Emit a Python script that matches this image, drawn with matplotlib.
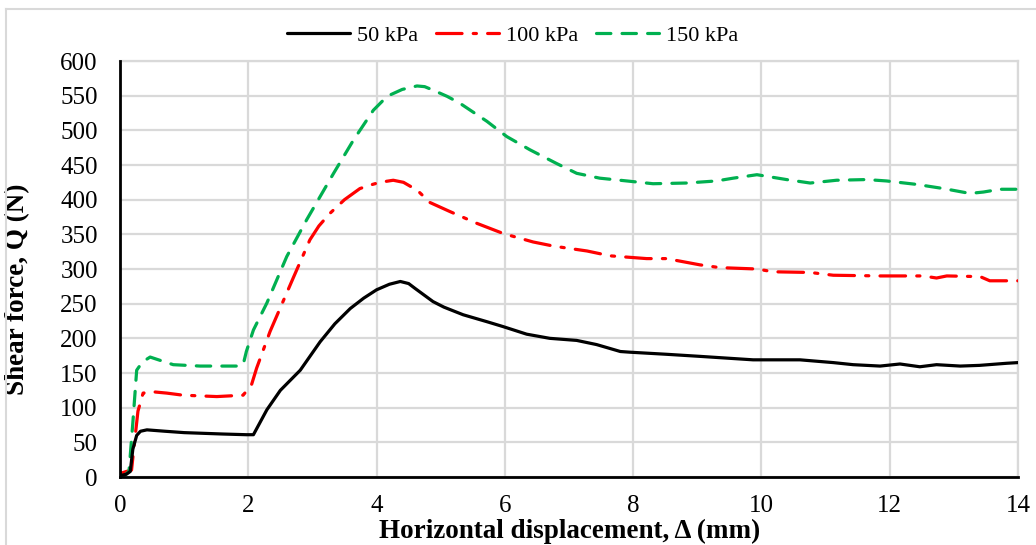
import matplotlib
matplotlib.use("Agg")
import matplotlib.pyplot as plt
from matplotlib.lines import Line2D

# Shear force vs horizontal displacement for three normal stresses
x_50 = [0.0, 0.10, 0.16, 0.20, 0.26, 0.32, 0.42, 0.70, 1.00, 1.30, 1.60, 1.97, 2.08,
        2.29, 2.50, 2.81, 3.12, 3.35, 3.59, 3.80, 4.00, 4.20, 4.37, 4.50, 4.60, 4.88,
        5.05, 5.35, 5.72, 5.97, 6.34, 6.70, 7.12, 7.43, 7.80, 7.95, 8.52, 9.04, 9.87,
        10.60, 11.12, 11.43, 11.85, 12.16, 12.47, 12.73, 13.10, 13.40, 13.82, 14.00]
q_50 = [2, 4, 8, 40, 60, 66, 68, 66, 64, 63, 62, 61, 61,
        97, 125, 154, 195, 221, 243, 258, 270, 278, 282, 279, 272, 253,
        245, 234, 224, 217, 206, 200, 197, 191, 181, 180, 177, 174, 169,
        169, 165, 162, 160, 163, 159, 162, 160, 161, 164, 165]

x_100 = [0.0, 0.10, 0.18, 0.22, 0.28, 0.36, 0.50, 0.73, 0.98, 1.51, 1.92, 2.05, 2.13,
         2.34, 2.70, 2.96, 3.10, 3.27, 3.50, 3.74, 3.90, 4.05, 4.26, 4.42, 4.55, 4.63,
         4.83, 5.14, 5.56, 5.98, 6.44, 6.76, 7.28, 7.64, 8.21, 8.52, 9.04, 9.35, 9.93,
         10.18, 10.76, 11.12, 11.85, 12.52, 12.73, 12.89, 13.41, 13.56, 13.77, 14.00]
q_100 = [5, 8, 10, 45, 95, 121, 123, 121, 118, 116, 118, 133, 157,
         210, 287, 342, 362, 380, 400, 416, 421, 425, 428, 425, 418, 414,
         396, 383, 366, 351, 339, 333, 326, 319, 315, 315, 306, 302, 300,
         296, 295, 291, 290, 290, 287, 290, 289, 283, 283, 283]

x_150 = [0.0, 0.08, 0.14, 0.20, 0.26, 0.35, 0.47, 0.60, 0.83, 1.25, 1.82, 1.92, 1.97,
         2.08, 2.29, 2.60, 2.91, 3.33, 3.64, 3.95, 4.10, 4.21, 4.40, 4.63, 4.75, 4.88,
         5.10, 5.30, 5.72, 6.03, 6.39, 6.81, 7.12, 7.48, 7.90, 8.31, 8.83, 9.30, 9.56,
         9.93, 10.39, 10.76, 11.17, 11.64, 11.95, 12.42, 12.84, 13.25, 13.46, 13.72, 14.00]
q_150 = [0, 3, 8, 78, 154, 166, 173, 169, 162, 160, 160, 162, 181,
         212, 251, 318, 371, 438, 486, 529, 543, 551, 559, 564, 563, 558,
         549, 539, 513, 491, 472, 452, 438, 431, 427, 423, 424, 427, 431,
         436, 429, 424, 428, 429, 427, 422, 416, 409, 411, 415, 415]

series_labels = ["50 kPa", "100 kPa", "150 kPa"]
x_ticks = [0, 2, 4, 6, 8, 10, 12, 14]
y_ticks = list(range(0, 601, 50))

plt.rcParams["font.family"] = ["Liberation Serif", "DejaVu Serif"]

W, H = 1036, 545
fig = plt.figure(figsize=(W / 100, H / 100), dpi=100)
ax = fig.add_axes([120 / W, 1 - 477 / H, 898 / W, 416 / H])

lw = 2.3
ax.plot(x_50, q_50, color="black", lw=lw, solid_capstyle="round",
        solid_joinstyle="round", label=series_labels[0], zorder=4)
ax.plot(x_100, q_100, color="#ff0000", lw=lw, dashes=(8, 3.5, 1, 3.5),
        dash_capstyle="round", dash_joinstyle="round", label=series_labels[1], zorder=3)
ax.plot(x_150, q_150, color="#00b050", lw=lw, dashes=(4.5, 3.5),
        dash_capstyle="round", dash_joinstyle="round", label=series_labels[2], zorder=3)

ax.set_xlim(0, 14)
ax.set_ylim(0, 600)
ax.set_xticks(x_ticks)
ax.set_yticks(y_ticks)
ax.tick_params(axis="both", length=0, labelsize=18)
ax.tick_params(axis="y", pad=16)
ax.tick_params(axis="x", pad=13)

ax.grid(True, color="#d9d9d9", lw=1.6, zorder=0)
ax.set_axisbelow(True)
for side in ("top", "right"):
    ax.spines[side].set_color("#d9d9d9")
    ax.spines[side].set_linewidth(1.6)
for side in ("left", "bottom"):
    ax.spines[side].set_color("black")
    ax.spines[side].set_linewidth(2.0)
    ax.spines[side].set_zorder(5)

ax.set_xlabel("Horizontal displacement, \u0394 (mm)", fontsize=19.5, fontweight="bold")
ax.set_ylabel("Shear force, Q (N)", fontsize=19.5, fontweight="bold")
ax.xaxis.set_label_coords((570 - 120) / 898, (477 - 519) / 416)
ax.yaxis.set_label_coords((30 - 120) / 898, (477 - 289) / 416)

fig.legend(loc="center", bbox_to_anchor=(513 / W, 1 - 36 / H), ncol=3,
           frameon=False, fontsize=16, handlelength=2.8, columnspacing=0.8,
           handletextpad=0.35)

# light outer frame around the chart area
fig.add_artist(Line2D([6 / W, 6 / W], [0, 1 - 9 / H], color="#d9d9d9", lw=1.5,
                      transform=fig.transFigure))
fig.add_artist(Line2D([6 / W, 1], [1 - 9 / H, 1 - 9 / H], color="#d9d9d9", lw=1.5,
                      transform=fig.transFigure))

fig.savefig("out.png", dpi=100)
